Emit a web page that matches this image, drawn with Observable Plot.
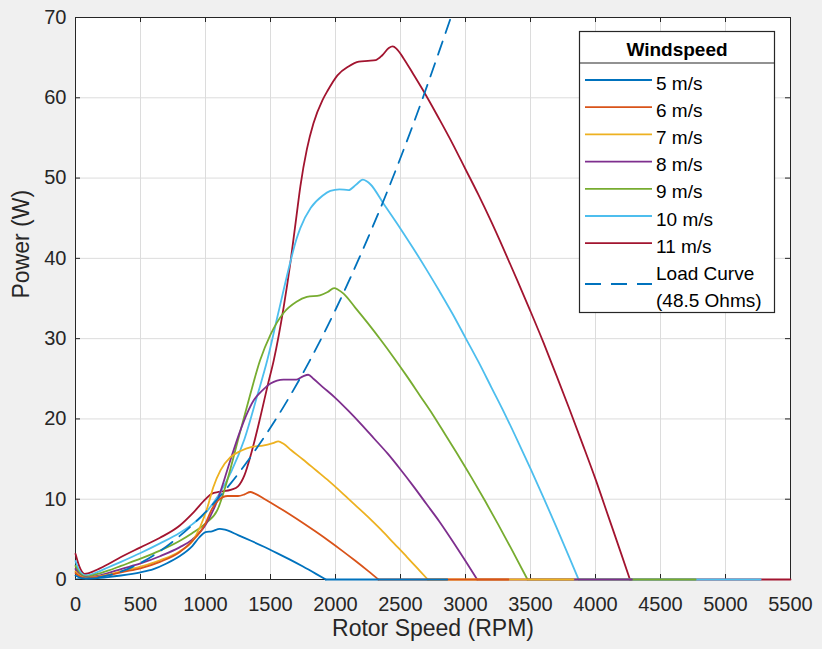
<!DOCTYPE html>
<html>
<head>
<meta charset="utf-8">
<script src="https://cdn.jsdelivr.net/npm/d3@7"></script>
<script src="https://cdn.jsdelivr.net/npm/@observablehq/plot@0.6"></script>
<style>
  html, body { margin: 0; padding: 0; background: #f0f0f0; }
  #wrap { position: relative; width: 822px; height: 649px; font-family: "Liberation Sans", Arial, Helvetica, sans-serif; }
  #legend { position: absolute; left: 0; top: 0; pointer-events: none; }
</style>
</head>
<body>
<div id="wrap"></div>
<script>
// Wind turbine power curves: power (W) vs rotor speed (RPM) for several wind speeds
const windspeeds = ["5 m/s", "6 m/s", "7 m/s", "8 m/s", "9 m/s", "10 m/s", "11 m/s"];
const lineColors = ["#0072BD", "#D95319", "#EDB120", "#7E2F8E", "#77AC30", "#4DBEEE", "#A2142F"];
const loadLabel = ["Load Curve", "(48.5 Ohms)"];
const loadColor = "#0072BD";

const xTicks = [0, 500, 1000, 1500, 2000, 2500, 3000, 3500, 4000, 4500, 5000, 5500];
const yTicks = [0, 10, 20, 30, 40, 50, 60, 70];

// [rpm, watts] up to the speed where each curve reaches zero power
const ws5 = [[0,0.5],[30,0.25],[80,0.1],[150,0.15],[250,0.3],[350,0.5],[500,0.9],[600,1.3],[700,2.0],[800,2.9],[900,4.2],[950,5.2],[1000,5.9],[1050,6.0],[1110,6.3],[1150,6.2],[1250,5.53],[1350,4.82],[1450,4.08],[1550,3.29],[1650,2.47],[1750,1.61],[1850,0.7],[1925,0]];
const ws6 = [[0,0.8],[30,0.4],[80,0.15],[150,0.25],[250,0.5],[350,0.9],[500,1.4],[650,2.2],[800,3.4],[900,4.8],[1000,7.0],[1050,8.8],[1100,9.9],[1170,10.4],[1250,10.4],[1300,10.6],[1345,10.9],[1380,10.7],[1450,10.06],[1550,9.1],[1650,8.1],[1750,7.04],[1850,5.94],[1950,4.8],[2050,3.6],[2150,2.36],[2250,1.07],[2330,0]];
const ws7 = [[0,1.0],[30,0.5],[80,0.2],[150,0.3],[250,0.6],[350,1.0],[500,1.6],[650,2.4],[800,3.5],[900,4.8],[960,6.6],[1015,9.0],[1060,11.5],[1115,13.6],[1190,15.2],[1270,16.0],[1350,16.5],[1450,16.7],[1520,17.0],[1560,17.2],[1600,16.9],[1660,16.1],[1750,14.95],[1850,13.6],[1950,12.25],[2050,10.8],[2150,9.3],[2250,7.8],[2350,6.2],[2450,4.5],[2550,2.8],[2650,1.05],[2710,0]];
const ws8 = [[0,1.3],[30,0.6],[80,0.25],[150,0.4],[250,0.8],[350,1.3],[500,2.0],[650,2.9],[800,4.0],[900,5.0],[1000,6.8],[1090,9.8],[1190,14.8],[1260,18.2],[1320,20.7],[1370,22.3],[1440,23.6],[1500,24.4],[1600,24.9],[1700,24.9],[1750,25.3],[1790,25.5],[1830,25.0],[1900,24.0],[2000,22.6],[2100,21.0],[2200,19.3],[2300,17.5],[2400,15.7],[2500,13.7],[2600,11.6],[2700,9.4],[2800,7.2],[2900,4.8],[3000,2.3],[3090,0]];
const ws9 = [[0,1.7],[30,0.8],[80,0.35],[150,0.6],[250,1.1],[350,1.7],[500,2.6],[650,3.6],[800,4.8],[900,5.8],[1000,7.0],[1090,8.6],[1170,12.5],[1255,17.7],[1340,22.8],[1420,27.3],[1500,30.5],[1600,33.2],[1700,34.6],[1780,35.2],[1880,35.4],[1940,35.8],[1990,36.3],[2020,36.1],[2062,35.6],[2150,33.9],[2250,31.9],[2350,29.8],[2450,27.6],[2550,25.3],[2650,22.9],[2750,20.5],[2850,17.9],[2950,15.3],[3050,12.6],[3150,9.8],[3250,6.9],[3350,3.9],[3477,0]];
const ws10 = [[0,2.3],[30,1.1],[80,0.5],[150,0.8],[250,1.5],[350,2.2],[500,3.3],[650,4.5],[800,5.8],[900,6.9],[1000,8.3],[1100,10.5],[1200,13.5],[1300,17.5],[1400,23.0],[1475,27.3],[1550,32.5],[1600,36.0],[1655,39.7],[1700,42.4],[1730,43.8],[1810,46.3],[1900,47.8],[1960,48.4],[2030,48.6],[2100,48.5],[2160,49.2],[2210,49.8],[2240,49.6],[2270,49.2],[2370,46.8],[2500,43.7],[2600,41.2],[2700,38.6],[2800,35.9],[2900,33.1],[3000,30.1],[3100,27.1],[3200,23.9],[3300,20.7],[3400,17.3],[3500,13.8],[3600,10.2],[3700,6.5],[3800,2.7],[3870,0]];
const ws11 = [[0,3.2],[30,1.6],[70,0.7],[150,1.1],[250,1.9],[350,2.8],[500,4.0],[650,5.2],[800,6.7],[910,8.4],[1000,10.0],[1050,10.7],[1100,10.9],[1200,11.2],[1250,11.6],[1300,13.0],[1350,15.6],[1420,20.1],[1480,24.3],[1525,27.3],[1600,33.8],[1655,39.7],[1700,45.3],[1730,49.0],[1780,53.6],[1830,56.8],[1900,59.7],[1940,60.9],[2015,62.8],[2100,63.9],[2180,64.5],[2250,64.6],[2310,64.7],[2360,65.3],[2410,66.2],[2440,66.4],[2470,66.1],[2520,65.0],[2600,62.9],[2700,60.2],[2800,57.3],[2900,54.3],[3000,51.1],[3100,47.9],[3200,44.5],[3300,40.9],[3400,37.2],[3500,33.4],[3600,29.5],[3700,25.4],[3800,21.2],[3900,16.9],[4000,12.5],[4100,7.8],[4200,3.1],[4265,0]];

// last simulated speed of each curve (power stays at zero up to here)
const tailEnds = [2860, 3330, 3830, 4280, 4770, 5270, 5500];

// Electrical load line for a 48.5 ohm resistor
const loadCurve = [[0,0],[200,0.34],[400,1.3],[600,3.0],[800,5.4],[1000,8.4],[1200,12.1],[1400,16.5],[1600,21.5],[1800,27.2],[2000,33.6],[2200,40.7],[2400,48.4],[2600,56.8],[2800,65.9],[2900,70.6]];

const seriesPoints = [ws5, ws6, ws7, ws8, ws9, ws10, ws11];

// Long tables; highest wind speed first so the lower ones sit on top
const rows = [];
const tails = [];
for (let i = seriesPoints.length - 1; i >= 0; i--) {
  const pts = seriesPoints[i];
  for (const [rpm, p] of pts) rows.push({ws: windspeeds[i], rpm, p});
  const [r0, p0] = pts[pts.length - 1];
  tails.push({ws: windspeeds[i], rpm: r0, p: p0}, {ws: windspeeds[i], rpm: tailEnds[i], p: p0});
}
const loadRows = loadCurve.map(([rpm, p]) => ({rpm, p}));

const W = 822, H = 649, mL = 75, mR = 32, mT = 17, mB = 70;
const innerW = W - mL - mR, innerH = H - mT - mB;
const ink = "#262626";
const tickLen = 5;
const fmt = d => String(d);

const chart = Plot.plot({
  width: W, height: H,
  marginLeft: mL, marginRight: mR, marginTop: mT, marginBottom: mB,
  style: {background: "#f0f0f0", color: ink, fontFamily: "'Liberation Sans', Arial, Helvetica, sans-serif"},
  x: {domain: [0, 5500]},
  y: {domain: [0, 70]},
  color: {domain: windspeeds, range: lineColors},
  marks: [
    Plot.frame({fill: "white", stroke: null}),
    Plot.gridX(xTicks, {stroke: "#dcdcdc", strokeOpacity: 1, strokeWidth: 1}),
    Plot.gridY(yTicks, {stroke: "#dcdcdc", strokeOpacity: 1, strokeWidth: 1}),
    // inward tick marks on all four sides
    Plot.tickX(xTicks, {x: d => d, insetTop: innerH - tickLen, stroke: ink}),
    Plot.tickX(xTicks, {x: d => d, insetBottom: innerH - tickLen, stroke: ink}),
    Plot.tickY(yTicks, {y: d => d, insetRight: innerW - tickLen, stroke: ink}),
    Plot.tickY(yTicks, {y: d => d, insetLeft: innerW - tickLen, stroke: ink}),
    Plot.frame({stroke: ink, strokeWidth: 1}),
    Plot.axisX(xTicks, {tickSize: 0, tickPadding: 17, fontSize: 20, tickFormat: fmt, label: null, fill: ink}),
    Plot.axisY(yTicks, {tickSize: 0, tickPadding: 9, fontSize: 20, tickFormat: fmt, label: null, fill: ink}),
    Plot.line(rows, {x: "rpm", y: "p", z: "ws", stroke: "ws", strokeWidth: 1.8, curve: "monotone-x"}),
    Plot.line(tails, {x: "rpm", y: "p", z: "ws", stroke: "ws", strokeWidth: 1.8}),
    Plot.line(loadRows, {x: "rpm", y: "p", stroke: loadColor, strokeWidth: 1.8, strokeDasharray: "14,9", curve: "monotone-x", clip: true}),
    Plot.text(["Rotor Speed (RPM)"], {frameAnchor: "bottom", dy: 56, fontSize: 23, fill: ink}),
    Plot.text(["Power (W)"], {frameAnchor: "left", dx: -54, rotate: -90, fontSize: 23, fill: ink})
  ]
});

const wrap = document.getElementById("wrap");
wrap.appendChild(chart);

// Legend box
const lg = d3.select(wrap).append("svg")
  .attr("id", "legend").attr("width", W).attr("height", H)
  .style("font-family", "'Liberation Sans', Arial, Helvetica, sans-serif");
const box = {x: 579.5, y: 31.5, w: 195, h: 281};
lg.append("rect").attr("x", box.x).attr("y", box.y).attr("width", box.w).attr("height", box.h)
  .attr("fill", "white").attr("stroke", ink).attr("stroke-width", 1.2);
lg.append("line").attr("x1", box.x).attr("x2", box.x + box.w).attr("y1", 63).attr("y2", 63)
  .attr("stroke", ink).attr("stroke-width", 1.2);
lg.append("text").attr("x", box.x + box.w / 2).attr("y", 49.5)
  .attr("text-anchor", "middle").attr("dominant-baseline", "central")
  .attr("font-size", 19).attr("font-weight", "bold").attr("fill", "#000").text("Windspeed");
const rowY0 = 80, rowStep = 27.2;
windspeeds.forEach((name, i) => {
  const y = rowY0 + i * rowStep;
  lg.append("line").attr("x1", 585).attr("x2", 652).attr("y1", y).attr("y2", y)
    .attr("stroke", lineColors[i]).attr("stroke-width", 1.8);
  lg.append("text").attr("x", 656).attr("y", y + 3).attr("dominant-baseline", "central")
    .attr("font-size", 19).attr("fill", "#000").text(name);
});
const ly = 284;
lg.append("line").attr("x1", 585).attr("x2", 652).attr("y1", ly).attr("y2", ly)
  .attr("stroke", loadColor).attr("stroke-width", 1.8).attr("stroke-dasharray", "16,10");
loadLabel.forEach((t, j) => {
  lg.append("text").attr("x", 656).attr("y", 273 + j * 27).attr("dominant-baseline", "central")
    .attr("font-size", 19).attr("fill", "#000").text(t);
});
</script>
</body>
</html>
